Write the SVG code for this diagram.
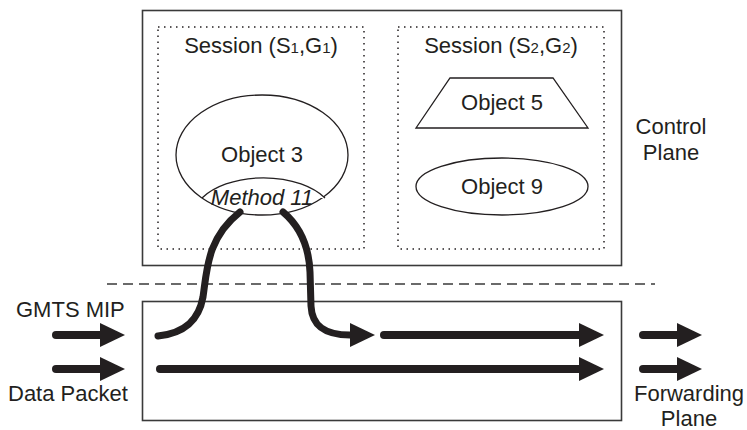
<svg xmlns="http://www.w3.org/2000/svg" width="747" height="430" viewBox="0 0 747 430">
  <style>
    text { font-family: "Liberation Sans", Arial, Helvetica, sans-serif; font-size: 22px; fill: #231f20; }
    .c { text-anchor: middle; }
    .plane { fill: none; stroke: #3a3a3a; stroke-width: 1.6; }
    .session { fill: none; stroke: #231f20; stroke-width: 1.5; stroke-dasharray: 1.5 4.5; }
    .shape { fill: #fff; stroke: #231f20; stroke-width: 1.3; }
    .flow { fill: none; stroke: #231f20; stroke-width: 8; stroke-linecap: round; }
    .strand { fill: none; stroke: #231f20; stroke-width: 7; stroke-linecap: round; }
    .sep { fill: none; stroke: #3a3a3a; stroke-width: 1.4; stroke-dasharray: 10 6; }
  </style>
  <defs>
    <marker id="head" viewBox="0 0 25 24" refX="0" refY="12" markerWidth="25" markerHeight="24" markerUnits="userSpaceOnUse" orient="auto">
      <path d="M0,0 L25,12 L0,24 Z" fill="#231f20"/>
    </marker>
  </defs>

  <!-- control plane -->
  <g id="control-plane">
    <rect class="plane" x="142.5" y="10.5" width="479" height="255"/>
    <text class="c" x="671" y="134">Control</text>
    <text class="c" x="671" y="160">Plane</text>
  </g>

  <g id="session-1">
    <rect class="session" x="158" y="27" width="206" height="222"/>
    <text class="c" x="261" y="53">Session (S<tspan font-size="15">1</tspan>,G<tspan font-size="15">1</tspan>)</text>
  </g>

  <g id="session-2">
    <rect class="session" x="398" y="27" width="206" height="222"/>
    <text class="c" x="501" y="53">Session (S<tspan font-size="15">2</tspan>,G<tspan font-size="15">2</tspan>)</text>
  </g>

  <g id="object-3">
    <ellipse class="shape" cx="262" cy="155" rx="86" ry="60"/>
    <path class="shape" fill="none" d="M202,198 A72,42 0 0 1 325,198"/>
    <text class="c" x="262" y="162">Object 3</text>
    <text class="c" x="262" y="205" font-size="18" font-style="italic">Method 11</text>
  </g>

  <g id="object-5">
    <polygon class="shape" points="450,78 553,78 588,128 416,128"/>
    <text class="c" x="502" y="110">Object 5</text>
  </g>

  <g id="object-9">
    <ellipse class="shape" cx="502" cy="186.5" rx="86" ry="28.5"/>
    <text class="c" x="502" y="194">Object 9</text>
  </g>

  <!-- boundary between planes -->
  <line class="sep" x1="107" y1="284" x2="655" y2="284"/>

  <!-- forwarding plane -->
  <g id="forwarding-plane">
    <rect class="plane" x="142.5" y="301.5" width="479" height="119"/>
    <text class="c" x="689" y="401" font-size="21.5">Forwarding</text>
    <text class="c" x="689" y="425.5" font-size="21.5">Plane</text>
  </g>

  <g id="inputs">
    <text x="16" y="317">GMTS MIP</text>
    <text x="8" y="401">Data Packet</text>
  </g>

  <g id="connectors">
    <!-- incoming -->
    <line class="flow" x1="56" y1="335" x2="100" y2="335" marker-end="url(#head)"/>
    <line class="flow" x1="56" y1="369" x2="100" y2="369" marker-end="url(#head)"/>
    <!-- MIP detour through Method 11 -->
    <path class="strand" d="M158,336 C186,333 199,319 203,297 C207,270 207,238 240,212"/>
    <path class="strand" d="M283,212 C302,228 309,248 310,272 L311,306 C312,326 325,335 350,335" stroke-linecap="butt" marker-end="url(#head)"/>
    <line class="flow" x1="384" y1="335" x2="579" y2="335" marker-end="url(#head)"/>
    <!-- data packet straight through -->
    <line class="flow" x1="160" y1="369" x2="579" y2="369" marker-end="url(#head)"/>
    <!-- outgoing -->
    <line class="flow" x1="643" y1="335" x2="677" y2="335" marker-end="url(#head)"/>
    <line class="flow" x1="643" y1="369" x2="677" y2="369" marker-end="url(#head)"/>
  </g>
</svg>
